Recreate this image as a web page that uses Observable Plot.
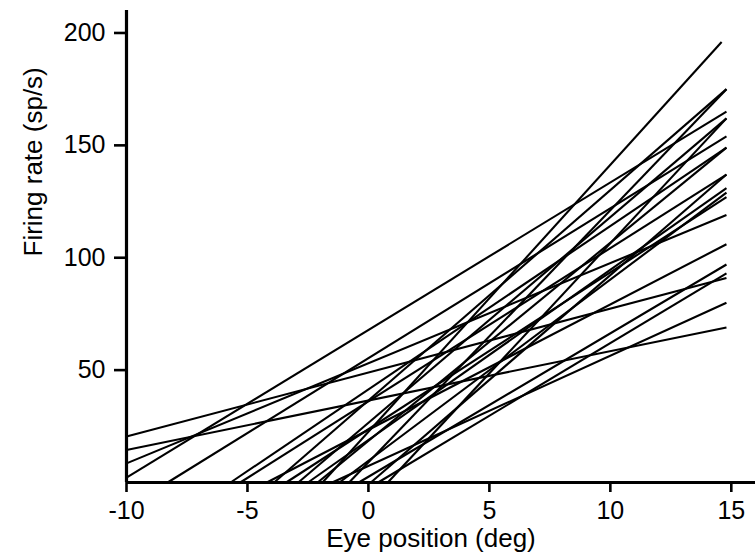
<!DOCTYPE html>
<html>
<head>
<meta charset="utf-8">
<script src="https://cdn.jsdelivr.net/npm/d3@7"></script>
<script src="https://cdn.jsdelivr.net/npm/@observablehq/plot@0.6"></script>
<style>
  html, body { margin: 0; padding: 0; background: #fff; }
</style>
</head>
<body>
<div id="chart"></div>
<script>
// Each neuron's rate-position line: start point (at x=-10 or at the threshold where rate = 0) and end point
const startX = [-10, -10, -10, -10, -8.3, -1.9, -1.5, -5.7, -5.3, -4.2, -3.9, -3.4, -2.9, -2.5, -2.1, -1.2, -0.8, -0.4, 0.1, 0.4, 0.8];
const startY = [20.5, 14.5, 8.5, 2.2, 0, 0, 0, 0, 0, 0, 0, 0, 0, 0, 0, 0, 0, 0, 0, 0, 0];
const endX   = [14.8, 14.8, 14.8, 14.8, 14.8, 14.6, 14.8, 14.8, 14.8, 14.8, 14.8, 14.8, 14.8, 14.8, 14.8, 14.8, 14.8, 14.8, 14.8, 14.8, 14.8];
const endY   = [91, 69, 119, 165, 154, 196, 80, 149, 137, 106, 175, 127, 162, 131, 149, 129, 175, 97, 137, 93, 162];

const xTicks = [-10, -5, 0, 5, 10, 15];
const yTicks = [50, 100, 150, 200];
const xTitle = "Eye position (deg)";
const yTitle = "Firing rate (sp/s)";

const lines = startX.map((d, i) => ({x1: d, y1: startY[i], x2: endX[i], y2: endY[i]}));

const font = "'Liberation Sans', Arial, Helvetica, sans-serif";

const chart = Plot.plot({
  width: 755,
  height: 558,
  marginLeft: 126,
  marginRight: 0,
  marginTop: 10,
  marginBottom: 76,
  style: {fontFamily: font, fontSize: "25px", background: "#fff", color: "#000"},
  x: {domain: [-10, 16]},
  y: {domain: [0, 210]},
  marks: [
    Plot.link(lines, {x1: "x1", y1: "y1", x2: "x2", y2: "y2", stroke: "#000", strokeWidth: 2.1}),
    Plot.ruleX([-10], {stroke: "#000", strokeWidth: 3.2}),
    Plot.ruleY([0], {stroke: "#000", strokeWidth: 3.2}),
    Plot.axisY({ticks: yTicks, tickSize: 12, tickPadding: 9, tickFormat: d => String(d),
      fontSize: 25, strokeWidth: 2.6, label: null, stroke: "#000", fill: "#000"}),
    Plot.axisX({ticks: xTicks, tickSize: 10, tickPadding: 9, tickFormat: d => String(d),
      fontSize: 25, strokeWidth: 2.6, label: null, stroke: "#000", fill: "#000"}),
    Plot.text([xTitle], {frameAnchor: "bottom", dx: -10, dy: 64, fontSize: 26,
      letterSpacing: "0.6px", fill: "#000"}),
    Plot.text([yTitle], {frameAnchor: "left", rotate: -90, dx: -93, dy: 10, fontSize: 26,
      letterSpacing: "0.6px", fill: "#000"})
  ]
});

document.getElementById("chart").appendChild(chart);
</script>
</body>
</html>
